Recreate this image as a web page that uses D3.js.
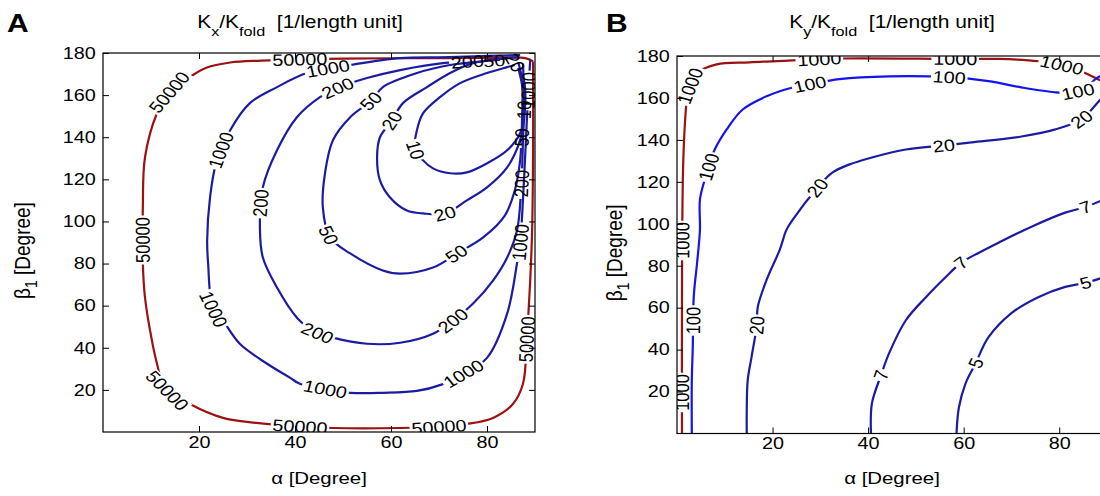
<!DOCTYPE html>
<html>
<head>
<meta charset="utf-8">
<script src="https://cdn.jsdelivr.net/npm/d3@7"></script>
<style>
  body { margin: 0; background: #fff; }
  svg { display: block; }
  text { font-family: "Liberation Sans", Arial, sans-serif; fill: #000; }
</style>
</head>
<body>
<svg id="chart" width="1100" height="496"></svg>
<script>
// ---- data: contour lines as [alpha, beta1] in degrees ----
const alphaTicks = [20, 40, 60, 80];
const betaTicks = [20, 40, 60, 80, 100, 120, 140, 160, 180];

// panel A : Kx / Kfold
const kx50000 = [[89.6,176],[88,177.6],[80,177.7],[72,177.6],[60,177.5],[50,177.3],[41,177],[33,176.4],[26.5,175.5],[21.5,173],[18.1,168.6],[14,162],[11.25,151.4],[8.75,130.5],[8.3,106.7],[8.3,80],[8.75,63.8],[10.2,43.3],[11.25,32.4],[12.9,21],[18.1,13.3],[25,6.7],[32,4.3],[39,2.9],[47.9,1.9],[61.9,1.9],[70,2.5],[75.8,3.8],[81.25,6.7],[85.4,13.3],[87.5,22.9],[88.3,44.8],[89,72],[89.4,95.7],[89.6,133.8],[89.6,176]];
const kx1000 = [[86.9,179],[80,178.6],[72.3,178],[61.9,177.6],[51.5,174.3],[42.5,170.5],[36.25,163.8],[30.6,156.2],[26.5,143.3],[23.5,127],[22.3,111.4],[21.7,91],[21.9,80],[22.9,59],[25,52.9],[28.5,41.9],[34.2,32.4],[39,25.7],[41,22.9],[46,20.5],[51.5,18.6],[58.3,18.6],[65.4,19.5],[70.5,22.5],[75,27.6],[80,35.2],[84.2,56.2],[86.25,80],[86.9,89.5],[87.7,119.5],[88.3,148],[88.75,167],[89,176.7]];
const kx200 = [[86.5,178],[82,177],[75,175.7],[70.8,175.2],[61.9,171.9],[55,168.1],[48.75,163.3],[45.2,159],[40.4,149.5],[36.25,133.8],[33.3,116.2],[32.7,95.7],[33.3,82.9],[36.25,68.6],[40.4,54.3],[43.75,48.1],[47.9,44.8],[55,41.9],[61.9,42.4],[68.75,46.7],[72.9,52.9],[77.1,61],[81.25,71.9],[84.2,82.9],[86.25,95.7],[87.1,114.8],[87.5,138.6],[87.7,157.6],[87.5,175]];
const kx50 = [[84.2,176.7],[78,175.8],[72.3,174.3],[65.4,170.5],[58.3,163.8],[56,157.6],[51.5,149.5],[47.9,138.6],[46.25,122.9],[45.8,106.7],[47.3,92.4],[51.5,84.8],[58.3,76.7],[61.9,75.2],[68.75,78.1],[73.75,84.8],[79.2,92.4],[83.75,102.9],[85.8,114.8],[86.9,129],[87.3,148],[87.3,167],[86.5,175.7]];
const kx20 = [[82.7,176.7],[77.1,175.2],[72.3,170.5],[67.5,163.8],[62.5,156.2],[60.2,148],[57.7,140],[57.1,130.5],[57.7,119.5],[59.8,111.4],[63.3,105.2],[66.7,103.8],[71.25,103.8],[75.8,110],[80,116.2],[84.2,125.7],[86.9,138.6],[87.9,152.9],[87.7,167],[85.8,175.7]];
const kx10 = [[85.8,174.3],[84.2,173.3],[80,170.5],[74.4,165.7],[70.2,159],[66.7,151.4],[65.4,143.3],[65,134.8],[66.7,129],[68.75,125.2],[72.3,122.9],[75.8,123.3],[80,127.6],[84.2,133.8],[86.9,141.9],[87.7,152.9],[87.3,164.8],[86.5,172.9]];
// inline labels: [level, alpha, beta1]
const kxLabels = [
  [50000,14,161],[50000,41,177.6],[50000,8.5,91],[50000,13.3,19.5],[50000,41,3],[50000,70,2],[50000,88.8,44],
  [1000,24.4,134],[1000,46.9,171.4],[1000,23.3,58.6],[1000,46.25,20],[1000,75,28],[1000,86.9,90],[1000,88.75,162],
  [200,32.7,108.6],[200,49,163],[200,76,176],[200,44.8,47],[200,72.9,53],[200,87.1,118],
  [50,56,157],[50,47.3,94],[50,73.5,85],[50,81.5,176],[50,87.2,140],
  [20,60.2,147.6],[20,71.25,103.8],[20,85.5,176],
  [10,65,134],[10,87.7,153]
];

// panel B : Ky / Kfold
const ky1000 = [[1.04,0],[1.04,63.6],[1.25,124.4],[1.67,148.3],[2.08,159.3],[2.7,165.6],[4.8,172.7],[8.3,176],[15.2,177],[25.6,178],[34,178.8],[58.3,178.6],[67.3,178.6],[75.6,177.5],[82.5,174.6],[86,171.3],[88.1,168.9],[90,167]];
const ky100 = [[3.1,0],[3.1,25.4],[3.3,41],[3.5,65],[4.2,81.3],[4.8,97],[4.8,111.5],[5.8,121],[6.9,129],[7.9,135.4],[10.4,145],[13.75,154.5],[18.75,160.8],[24.2,165],[27.7,166.5],[34,169],[44.4,170.3],[56.9,169.9],[65.2,168],[72.1,165],[79.2,162.7],[82.5,162.7],[85.4,164.1],[87.5,168.9],[90,172]];
const ky20 = [[14.6,0],[14.6,11],[14.8,25.4],[15.6,36.4],[16.7,51.7],[16.9,60.3],[18.75,73.2],[21.5,87.6],[22.9,97.1],[24.2,101.9],[29.4,117.2],[32.5,124.4],[36,128.2],[40.8,131.6],[47.9,135.4],[55.8,137.3],[61.7,138.8],[72.1,141.6],[79.2,145],[84.6,149.8],[88.1,157.9],[90,163]];
const ky7 = [[40.6,0],[40.8,14.4],[42.7,27.8],[44.4,38.3],[47.9,54],[52.1,65],[56.25,74.6],[59.4,81.3],[63.1,86.1],[67.3,91],[74.2,98.6],[81.25,105.3],[85.6,108.1],[89.2,111.5],[90,112.5]];
const ky5 = [[58.5,0],[59,12.4],[60.4,23.9],[62.5,33.5],[65.2,45.9],[70,57.4],[75.6,65],[81.25,69.9],[85.4,71.8],[90,75]];
const kyLabels = [
  [1000,1.25,92],[1000,1.25,19.6],[1000,2.7,165.6],[1000,29.8,178.5],[1000,58.3,178.6],[1000,80.5,175.6],
  [100,3.5,54],[100,6.9,127],[100,27.7,166.5],[100,56.9,169.9],[100,84,163.5],
  [20,16.7,51.7],[20,29.4,117.2],[20,55.8,137.3],[20,84.6,149.8],
  [7,42.7,27.8],[7,59.4,81.3],[7,85.6,108.1],
  [5,62.5,33.5],[5,85.4,71.8]
];

const darkBlue = "#1c1ca0", brightBlue = "#1414ec", darkRed = "#9c1212";
const SX = 1.2;       // the figure is stretched sideways
const FS = 16.5;

const svg = d3.select("#chart");
const defs = svg.append("defs");

const panels = [
  { id: "A", xRange: [103, 535], yRange: [432, 53], titleX: 300, sub: "x",
    curves: [
      { level: 50000, points: kx50000, colour: darkRed },
      { level: 1000, points: kx1000, colour: darkBlue },
      { level: 200, points: kx200, colour: darkBlue },
      { level: 50, points: kx50, colour: darkBlue },
      { level: 20, points: kx20, colour: darkBlue },
      { level: 10, points: kx10, colour: darkBlue }
    ], labels: kxLabels, letterX: 7, ylabX: 30 },
  { id: "B", xRange: [677, 1107], yRange: [433.5, 56], titleX: 892, sub: "y",
    curves: [
      { level: 1000, points: ky1000, colour: darkRed },
      { level: 100, points: ky100, colour: brightBlue },
      { level: 20, points: ky20, colour: darkBlue },
      { level: 7, points: ky7, colour: darkBlue },
      { level: 5, points: ky5, colour: darkBlue }
    ], labels: kyLabels, letterX: 606, ylabX: 622 }
];

panels.forEach(drawPanel);

function drawPanel(p) {
  const x = d3.scaleLinear().domain([0, 90]).range(p.xRange);
  const y = d3.scaleLinear().domain([0, 180]).range(p.yRange);
  const [x0, x1] = p.xRange, [yb, yt] = p.yRange;
  const g = svg.append("g");

  const clipId = "clip" + p.id;
  defs.append("clipPath").attr("id", clipId).append("rect")
    .attr("x", x0).attr("y", yt).attr("width", x1 - x0).attr("height", yb - yt);
  const plot = g.append("g").attr("clip-path", `url(#${clipId})`);

  const line = d3.line().x(d => x(d[0])).y(d => y(d[1])).curve(d3.curveCatmullRom);

  const byLevel = {};
  p.curves.forEach(c => {
    const maskId = `m${p.id}${c.level}`;
    const mask = defs.append("mask").attr("id", maskId).attr("maskUnits", "userSpaceOnUse")
      .attr("x", 0).attr("y", 0).attr("width", 1100).attr("height", 496);
    mask.append("rect").attr("width", 1100).attr("height", 496).attr("fill", "#fff");
    const path = plot.append("path").datum(c.points).attr("d", line)
      .attr("fill", "none").attr("stroke", c.colour).attr("stroke-width", 2.2)
      .attr("stroke-linejoin", "round").attr("mask", `url(#${maskId})`);
    byLevel[c.level] = { path, mask };
  });

  // inline contour labels, rotated along the line, with a gap cut in it
  p.labels.forEach(([level, a, b]) => {
    const { path, mask } = byLevel[level];
    const node = path.node(), len = node.getTotalLength();
    const tx = x(a), ty = y(b);
    let best = 0, bd = Infinity;
    for (let s = 0; s <= len; s += 1) {
      const q = node.getPointAtLength(s);
      const d = (q.x - tx) ** 2 + (q.y - ty) ** 2;
      if (d < bd) { bd = d; best = s; }
    }
    const pt = node.getPointAtLength(best);
    const pa = node.getPointAtLength(Math.max(0, best - 5));
    const pb = node.getPointAtLength(Math.min(len, best + 5));
    let ang = Math.atan2(pb.y - pa.y, pb.x - pa.x) * 180 / Math.PI;
    if (ang >= 90) ang -= 180;
    if (ang < -90) ang += 180;
    if (ang > 80) ang -= 180;
    const r = ang * Math.PI / 180;
    const angP = Math.atan2(SX * Math.sin(r), Math.cos(r)) * 180 / Math.PI;
    const tr = `translate(${pt.x},${pt.y}) scale(${SX},1) rotate(${angP})`;
    const t = plot.append("text").attr("transform", tr).attr("text-anchor", "middle")
      .attr("dy", "0.36em").attr("font-size", FS).text(level);
    const w = t.node().getComputedTextLength();
    mask.append("rect").attr("transform", tr).attr("x", -w / 2 - 1.5).attr("y", -7)
      .attr("width", w + 3).attr("height", 14).attr("fill", "#000");
  });

  // axes box with inward ticks on all sides
  const styleText = sel => sel.selectAll("text").attr("font-size", FS)
    .attr("font-family", '"Liberation Sans", Arial, sans-serif').attr("fill", "#000");
  const bottom = g.append("g").attr("transform", `translate(0,${yb})`)
    .call(d3.axisBottom(x).tickValues(alphaTicks).tickSizeInner(-6).tickSizeOuter(0).tickPadding(4));
  styleText(bottom);
  bottom.selectAll("text").attr("transform", `scale(${SX},1)`);
  const top = g.append("g").attr("transform", `translate(0,${yt})`)
    .call(d3.axisTop(x).tickValues(alphaTicks).tickSizeInner(-6).tickSizeOuter(0).tickFormat(""));
  const left = g.append("g").attr("transform", `translate(${x0},0)`)
    .call(d3.axisLeft(y).tickValues(betaTicks).tickSizeInner(-6).tickSizeOuter(0).tickPadding(6));
  styleText(left);
  left.selectAll("text").attr("transform", `scale(${SX},1)`);
  const right = g.append("g").attr("transform", `translate(${x1},0)`)
    .call(d3.axisRight(y).tickValues(betaTicks).tickSizeInner(-6).tickSizeOuter(0).tickFormat(""));
  [bottom, top, left, right].forEach(a => {
    a.select(".domain").remove();
    a.selectAll("line").attr("stroke", "#000").attr("stroke-width", 1);
  });
  g.append("rect").attr("x", x0).attr("y", yt).attr("width", x1 - x0).attr("height", yb - yt)
    .attr("fill", "none").attr("stroke", "#000").attr("stroke-width", 1.2);

  // title  K_x/K_fold  [1/length unit]
  const title = g.append("text").attr("transform", `translate(${p.titleX},28) scale(${SX},1)`)
    .attr("text-anchor", "middle").attr("font-size", 17.5).attr("xml:space", "preserve");
  title.append("tspan").text("K");
  title.append("tspan").attr("font-size", 13.5).attr("dy", 8).text(p.sub);
  title.append("tspan").attr("dy", -8).text("/K");
  title.append("tspan").attr("font-size", 13.5).attr("dy", 8).text("fold");
  title.append("tspan").attr("dy", -8).text("\u00a0\u00a0[1/length unit]");

  // panel letter
  g.append("text").attr("transform", `translate(${p.letterX},32) scale(${SX},1)`)
    .attr("font-size", 25).attr("font-weight", "bold").text(p.id);

  // axis labels
  g.append("text").attr("transform", `translate(${(x0 + x1) / 2},484) scale(${SX},1)`)
    .attr("text-anchor", "middle").attr("font-size", 17).text("\u03b1 [Degree]");
  const yl = g.append("text")
    .attr("transform", `translate(${p.ylabX},${(yb + yt) / 2 + 8}) scale(${SX},1) rotate(-90)`)
    .attr("text-anchor", "middle").attr("font-size", 19);
  yl.append("tspan").text("\u03b2");
  yl.append("tspan").attr("font-size", 14).attr("dy", 6).text("1");
  yl.append("tspan").attr("dy", -6).text("\u00a0[Degree]");
}
</script>
</body>
</html>
